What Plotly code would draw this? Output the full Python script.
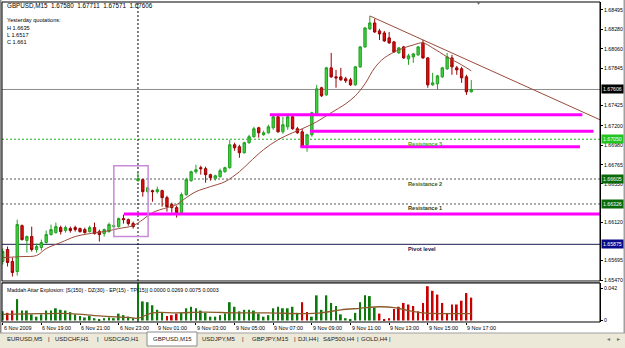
import plotly.graph_objects as go

# ---------------- data ----------------
bars = list(range(98))
opens = [1.65683, 1.65817, 1.65683, 1.65571, 1.66084, 1.65917, 1.65962, 1.65817, 1.65839, 1.65895,
         1.65984, 1.66006, 1.66062, 1.66029, 1.66051, 1.66062, 1.66051, 1.66040, 1.66017, 1.66062,
         1.66017, 1.65995, 1.66017, 1.66073, 1.66073, 1.66163, 1.66151, 1.66107, 1.66587, 1.66598,
         1.66464, 1.66475, 1.66464, 1.66475, 1.66397, 1.66319, 1.66285, 1.66229, 1.66430, 1.66587,
         1.66687, 1.66732, 1.66721, 1.66654, 1.66609, 1.66631, 1.66687, 1.66732, 1.66988, 1.66966,
         1.66899, 1.67011, 1.67078, 1.67178, 1.67100, 1.67122, 1.67178, 1.67301, 1.67133, 1.67189,
         1.67301, 1.67167, 1.67133, 1.66988, 1.67100, 1.67334, 1.67625, 1.67546, 1.67848, 1.67747,
         1.67747, 1.67725, 1.67714, 1.67658, 1.67859, 1.68082, 1.68283, 1.68350, 1.68261, 1.68238,
         1.68183, 1.68138, 1.68015, 1.68082, 1.67948, 1.67970, 1.67993, 1.68127, 1.67959, 1.67658,
         1.67669, 1.67747, 1.67837, 1.67959, 1.67848, 1.67837, 1.67747, 1.67580]
highs = [1.65828, 1.65850, 1.65727, 1.66151, 1.66096, 1.65973, 1.66073, 1.65884, 1.65928, 1.66029,
         1.66096, 1.66118, 1.66084, 1.66084, 1.66073, 1.66084, 1.66062, 1.66062, 1.66084, 1.66118,
         1.66040, 1.66051, 1.66118, 1.66096, 1.66174, 1.66207, 1.66163, 1.66129, 1.66676, 1.66609,
         1.66520, 1.66486, 1.66520, 1.66486, 1.66419, 1.66341, 1.66308, 1.66453, 1.66620, 1.66698,
         1.66765, 1.66754, 1.66743, 1.66665, 1.66654, 1.66721, 1.66743, 1.67044, 1.67011, 1.66988,
         1.67022, 1.67100, 1.67189, 1.67189, 1.67145, 1.67212, 1.67312, 1.67312, 1.67301, 1.67312,
         1.67312, 1.67189, 1.67167, 1.67111, 1.67357, 1.67658, 1.67636, 1.67859, 1.68015, 1.67825,
         1.67848, 1.67747, 1.67736, 1.67870, 1.68093, 1.68305, 1.68428, 1.68395, 1.68283, 1.68261,
         1.68249, 1.68149, 1.68082, 1.68093, 1.68004, 1.68015, 1.68093, 1.68160, 1.67970, 1.67792,
         1.67770, 1.67859, 1.68015, 1.67993, 1.67870, 1.67859, 1.67770, 1.67711]
lows = [1.65649, 1.65627, 1.65515, 1.65526, 1.65917, 1.65783, 1.65794, 1.65783, 1.65805, 1.65884,
        1.65973, 1.65995, 1.65984, 1.66006, 1.66006, 1.66017, 1.66006, 1.65995, 1.66006, 1.65984,
        1.65906, 1.65962, 1.66006, 1.66062, 1.66062, 1.66107, 1.66084, 1.66051, 1.66575, 1.66408,
        1.66453, 1.66352, 1.66442, 1.66296, 1.66241, 1.66229, 1.66174, 1.66218, 1.66419, 1.66575,
        1.66665, 1.66654, 1.66564, 1.66587, 1.66587, 1.66620, 1.66676, 1.66721, 1.66921, 1.66843,
        1.66888, 1.67000, 1.67067, 1.67067, 1.67089, 1.67111, 1.67156, 1.67122, 1.67111, 1.67156,
        1.67156, 1.67111, 1.66955, 1.66910, 1.67078, 1.67323, 1.67524, 1.67535, 1.67736, 1.67625,
        1.67703, 1.67680, 1.67647, 1.67647, 1.67848, 1.68071, 1.68272, 1.68238, 1.68160, 1.68138,
        1.68116, 1.68015, 1.68004, 1.67948, 1.67881, 1.67904, 1.67982, 1.67948, 1.67625, 1.67647,
        1.67602, 1.67736, 1.67825, 1.67770, 1.67770, 1.67680, 1.67546, 1.67571]
closes = [1.65794, 1.65671, 1.65560, 1.66096, 1.65928, 1.65962, 1.65817, 1.65850, 1.65895, 1.65984,
          1.66040, 1.66073, 1.66017, 1.66062, 1.66029, 1.66040, 1.66017, 1.66006, 1.66062, 1.65995,
          1.65984, 1.66040, 1.66096, 1.66084, 1.66163, 1.66151, 1.66107, 1.66073, 1.66609, 1.66464,
          1.66508, 1.66464, 1.66486, 1.66397, 1.66296, 1.66285, 1.66229, 1.66430, 1.66598, 1.66687,
          1.66709, 1.66721, 1.66654, 1.66620, 1.66642, 1.66698, 1.66732, 1.66988, 1.66955, 1.66899,
          1.67011, 1.67078, 1.67167, 1.67122, 1.67122, 1.67189, 1.67301, 1.67133, 1.67212, 1.67301,
          1.67167, 1.67122, 1.66966, 1.67100, 1.67346, 1.67613, 1.67535, 1.67848, 1.67747, 1.67736,
          1.67714, 1.67703, 1.67658, 1.67859, 1.68082, 1.68294, 1.68350, 1.68249, 1.68227, 1.68149,
          1.68127, 1.68026, 1.68071, 1.67959, 1.67982, 1.68004, 1.68082, 1.67959, 1.67658, 1.67680,
          1.67758, 1.67848, 1.67970, 1.67859, 1.67825, 1.67736, 1.67580, 1.67606]

ma_bars = [0, 4, 7, 9, 12, 15, 18, 21, 24, 27, 29, 31, 34, 36, 38, 40, 43, 46, 49, 51,
           54, 57, 60, 62, 65, 68, 71, 73, 75, 77, 79, 82, 85, 87, 89, 92, 95, 97]
ma_vals = [1.65727, 1.65738, 1.65750, 1.65828, 1.65895, 1.65962, 1.65995, 1.66017, 1.66051, 1.66084,
           1.66151, 1.66229, 1.66285, 1.66319, 1.66397, 1.66464, 1.66520, 1.66575, 1.66687, 1.66788,
           1.66933, 1.67044, 1.67122, 1.67167, 1.67245, 1.67346, 1.67446, 1.67535, 1.67669, 1.67848,
           1.67959, 1.68049, 1.68104, 1.68127, 1.68071, 1.67970, 1.67881, 1.67814]

hist_vals = [0.012, 0.010, 0.013, 0.028, 0.013, 0.013, 0.008, 0.005, 0.008, 0.013,
             0.013, 0.016, 0.014, 0.013, 0.011, 0.008, 0.006, 0.004, 0.006, 0.003,
             0.002, 0.003, 0.004, 0.003, 0.009, 0.007, 0.005, 0.003, 0.049, 0.025,
             0.024, 0.020, 0.014, 0.010, 0.006, 0.007, 0.009, 0.010, 0.016, 0.018,
             0.016, 0.013, 0.010, 0.005, 0.005, 0.007, 0.009, 0.024, 0.018, 0.012,
             0.014, 0.014, 0.013, 0.009, 0.005, 0.007, 0.016, 0.018, 0.016, 0.016,
             0.018, 0.010, 0.024, 0.011, 0.005, 0.033, 0.014, 0.033, 0.023, 0.019,
             0.008, 0.003, 0.002, 0.010, 0.024, 0.033, 0.032, 0.017, 0.009, 0.001,
             0.003, 0.015, 0.018, 0.023, 0.021, 0.019, 0.012, 0.023, 0.045, 0.039,
             0.034, 0.023, 0.009, 0.021, 0.021, 0.026, 0.036, 0.030]
hist_dir = [1, -1, -1, 1, 1, 1, 1, 1, 1, 1,
            1, 1, 1, 1, 1, 1, 1, 1, 1, 1,
            1, 1, 1, 1, 1, 1, 1, 1, 1, 1,
            1, 1, 1, 1, -1, -1, -1, 1, 1, 1,
            1, 1, 1, 1, 1, 1, 1, 1, 1, 1,
            1, 1, 1, 1, 1, 1, 1, 1, 1, 1,
            1, 1, -1, -1, 1, 1, 1, 1, 1, 1,
            1, 1, 1, 1, 1, 1, 1, 1, -1, -1,
            -1, -1, -1, -1, -1, -1, -1, -1, -1, -1,
            -1, -1, -1, -1, -1, -1, -1, -1]
sig_bars = [0, 8, 14, 20, 26, 28, 31, 36, 42, 48, 55, 62, 66, 70, 74, 78, 81, 84, 87, 91, 97]
sig_vals = [0.008, 0.009, 0.009, 0.006, 0.004, 0.003, 0.010, 0.010, 0.011, 0.010, 0.010,
            0.009, 0.010, 0.014, 0.016, 0.018, 0.017, 0.013, 0.010, 0.009, 0.009]

time_tick_bars = [0, 8, 16, 24, 32, 40, 48, 56, 64, 72, 80, 88, 96]
time_tick_labels = ["6 Nov 2009", "6 Nov 19:00", "6 Nov 21:00", "6 Nov 23:00", "9 Nov 01:00",
                    "9 Nov 03:00", "9 Nov 05:00", "9 Nov 07:00", "9 Nov 09:00", "9 Nov 11:00",
                    "9 Nov 13:00", "9 Nov 15:00", "9 Nov 17:00"]
price_ticks = [1.68495, 1.68280, 1.68060, 1.67845, 1.67425, 1.67200, 1.66980, 1.66765,
               1.66550, 1.66120, 1.65695, 1.65470]

current_price = 1.67606
pivot = 1.65875
res1 = 1.66326
res2 = 1.66605
res3 = 1.67050

magenta_lines = [(55.3, 120.0, 1.67323), (63.6, 122.3, 1.67139),
                 (61.6, 119.5, 1.66966), (25.1, 123.7, 1.66213)]
trend_line = (76, 1.68428, 123.66, 1.67267)
box_rect = (23.0, 30.1, 1.65962, 1.66754)
separator_bar = 28

tabs = ["EURUSD,M5", "|", "USDCHF,H1", "|", "USDCAD,H1", "GBPUSD,M15", "USDJPY,M5", "|",
        "GBPJPY,M15", "|", "DJI,H4", "|", "S&P500,H4", "|", "GOLD,H4", "|"]
tab_px = [25, 49, 72, 98, 121, 172, 219, 243, 270, 295, 307, 318, 339, 358, 374, 390]

# ---------------- geometry helpers (pixel -> paper) ----------------
PL, PR, PT, PB = 2, 600, 2, 322
W, H = 625, 348


def fx(px):
    return (px - PL) / (PR - PL)


def fy(py):
    return (PB - py) / (PB - PT)


FONT = "Liberation Sans, Arial, sans-serif"
AXFONT = 5.2

fig = go.Figure()

fig.add_trace(go.Candlestick(
    x=bars, open=opens, high=highs, low=lows, close=closes,
    increasing=dict(line=dict(color="#23a023", width=1), fillcolor="#3fd03f"),
    decreasing=dict(line=dict(color="#9a0000", width=1), fillcolor="#dd1010"),
    whiskerwidth=0, xaxis="x", yaxis="y", showlegend=False, hoverinfo="skip"))

fig.add_trace(go.Scatter(
    x=ma_bars, y=ma_vals, mode="lines", xaxis="x", yaxis="y",
    line=dict(color="#9a4a3a", width=1, shape="spline"), hoverinfo="skip"))

up_x = [b for b, d in zip(bars, hist_dir) if d > 0]
up_v = [v for v, d in zip(hist_vals, hist_dir) if d > 0]
dn_x = [b for b, d in zip(bars, hist_dir) if d < 0]
dn_v = [v for v, d in zip(hist_vals, hist_dir) if d < 0]
fig.add_trace(go.Bar(x=up_x, y=up_v, width=0.38, xaxis="x", yaxis="y2",
                     marker=dict(color="#0b7a0b", line=dict(width=0)), hoverinfo="skip"))
fig.add_trace(go.Bar(x=dn_x, y=dn_v, width=0.38, xaxis="x", yaxis="y2",
                     marker=dict(color="#c80000", line=dict(width=0)), hoverinfo="skip"))
fig.add_trace(go.Scatter(x=sig_bars, y=sig_vals, mode="lines", xaxis="x", yaxis="y2",
                         line=dict(color="#8b5a2b", width=1.3, shape="spline"), hoverinfo="skip"))

shapes = []
# horizontal levels
shapes.append(dict(type="line", xref="paper", yref="y", x0=0, x1=1, y0=current_price, y1=current_price,
                   line=dict(color="#8c8c8c", width=1), layer="below"))
shapes.append(dict(type="line", xref="paper", yref="y", x0=0, x1=1, y0=res3, y1=res3,
                   line=dict(color="#22b022", width=1, dash="2px,2px"), layer="below"))
for lv in (res2, res1):
    shapes.append(dict(type="line", xref="paper", yref="y", x0=0, x1=1, y0=lv, y1=lv,
                       line=dict(color="#5a5a5a", width=1, dash="2px,2px"), layer="below"))
shapes.append(dict(type="line", xref="paper", yref="y", x0=0, x1=1, y0=pivot, y1=pivot,
                   line=dict(color="#1c1c50", width=1), layer="below"))
# period separator
shapes.append(dict(type="line", xref="x", yref="paper", x0=separator_bar, x1=separator_bar,
                   y0=fy(281), y1=1, line=dict(color="black", width=1, dash="2px,2px"), layer="below"))
shapes.append(dict(type="line", xref="x", yref="paper", x0=separator_bar, x1=separator_bar,
                   y0=0, y1=fy(283), line=dict(color="black", width=1, dash="2px,2px"), layer="below"))
# magenta support/resistance lines
for x0, x1, lv in magenta_lines:
    shapes.append(dict(type="line", xref="x", yref="y", x0=x0, x1=x1, y0=lv, y1=lv,
                       line=dict(color="#ff00ff", width=3)))
# rectangle
shapes.append(dict(type="rect", xref="x", yref="y", x0=box_rect[0], x1=box_rect[1],
                   y0=box_rect[2], y1=box_rect[3], line=dict(color="#c88ad8", width=1.5)))
# trend line
shapes.append(dict(type="line", xref="x", yref="y", x0=trend_line[0], y0=trend_line[1],
                   x1=trend_line[2], y1=trend_line[3], line=dict(color="#9a4a3a", width=1)))
# frames
shapes.append(dict(type="rect", xref="paper", yref="paper", x0=0, x1=1, y0=fy(281), y1=1,
                   line=dict(color="black", width=1)))
shapes.append(dict(type="line", xref="paper", yref="paper", x0=0, x1=1, y0=fy(282), y1=fy(282),
                   line=dict(color="#909090", width=2)))
shapes.append(dict(type="rect", xref="paper", yref="paper", x0=0, x1=1, y0=0, y1=fy(283),
                   line=dict(color="black", width=1)))
# window borders
shapes.append(dict(type="rect", xref="paper", yref="paper", x0=fx(0), x1=fx(1.5), y0=fy(H), y1=fy(0),
                   fillcolor="#8a8a8a", line=dict(width=0), layer="below"))
shapes.append(dict(type="rect", xref="paper", yref="paper", x0=fx(623.5), x1=fx(W), y0=fy(333), y1=fy(0),
                   fillcolor="#a0a0a0", line=dict(width=0), layer="below"))
# tab strip
shapes.append(dict(type="rect", xref="paper", yref="paper", x0=fx(0), x1=fx(W), y0=fy(H), y1=fy(333),
                   fillcolor="#ece9d8", line=dict(width=0)))
shapes.append(dict(type="line", xref="paper", yref="paper", x0=fx(0), x1=fx(W), y0=fy(333), y1=fy(333),
                   line=dict(color="#a0a0a0", width=1)))
shapes.append(dict(type="rect", xref="paper", yref="paper", x0=fx(147), x1=fx(197), y0=fy(346), y1=fy(332),
                   fillcolor="white", line=dict(color="#8a8a8a", width=1)))

ann = []


def txt(px, py, s, size=6, color="black", anchor="left"):
    ann.append(dict(x=fx(px), y=fy(py), xref="paper", yref="paper", text=s, showarrow=False,
                    xanchor=anchor, yanchor="middle", font=dict(family=FONT, size=size, color=color)))


txt(5, 6, "GBPUSD,M15  1.67580  1.67711  1.67571  1.67606", 6.3)
txt(5, 20, "Yesterday quotations:", 5.6)
txt(5, 28, "H 1.6635", 5.6)
txt(5, 35, "L 1.6517", 5.6)
txt(5, 42, "C 1.661", 5.6)
txt(5, 290, "Maddah Attar Explosion: [S(150) - DZ(30) - EP(15) - TP(15)] 0.0000 0.0269 0.0075 0.0003", 5.3)
txt(478, 3.5, "▼", 5, "#606060", "center")

# level labels
for s, lv, col in [("Resistance 3", res3, "#33b033"), ("Resistance 2", res2, "#2a602a"),
                   ("Resistance 1", res1, "#1a3a1a"), ("Pivot level", pivot, "#14144a")]:
    ann.append(dict(x=83.5, y=lv, xref="x", yref="y", text="<b>" + s + "</b>", showarrow=False,
                    xanchor="left", yanchor="middle", yshift=-4.5,
                    font=dict(family=FONT, size=5.6, color=col)))

# price boxes on the axis
for lv, bg in [(current_price, "#000000"), (res3, "#22c422"), (res2, "#0a6a0a"),
               (res1, "#0a6a0a"), (pivot, "#0a0a8a")]:
    ann.append(dict(x=fx(601), y=lv, xref="paper", yref="y", text=f"{lv:.5f}", showarrow=False,
                    xanchor="left", yanchor="middle", bgcolor=bg, borderpad=1,
                    font=dict(family=FONT, size=AXFONT, color="white")))

# time labels
for b, s in zip(time_tick_bars, time_tick_labels):
    ann.append(dict(x=b, y=fy(327.5), xref="x", yref="paper", text=s, showarrow=False,
                    xanchor="left", yanchor="middle", xshift=-1,
                    font=dict(family=FONT, size=5.4, color="black")))

# tabs
for s, px in zip(tabs, tab_px):
    txt(px, 339, s.replace("&", "&amp;"), 6, "#222222", "center")
txt(608, 339, "◂", 6, "#707070", "center")
txt(618, 339, "▸", 6, "#707070", "center")

fig.update_layout(
    width=W, height=H, margin=dict(l=PL, r=W - PR, t=PT, b=H - PB),
    paper_bgcolor="white", plot_bgcolor="white", showlegend=False, barmode="overlay",
    xaxis=dict(domain=[0, 1], range=[-0.15, 123.65], anchor="y2", showgrid=False, zeroline=False,
               showticklabels=False, ticks="outside", ticklen=2, tickcolor="black",
               tickvals=time_tick_bars, rangeslider=dict(visible=False), showline=False,
               fixedrange=True),
    yaxis=dict(domain=[fy(281), 1], range=[1.65465, 1.68584], side="right", anchor="x",
               showgrid=False, zeroline=False, tickvals=price_ticks,
               ticktext=[f"{v:.5f}" for v in price_ticks], ticks="outside", ticklen=2,
               tickcolor="black", tickfont=dict(family=FONT, size=AXFONT, color="black"),
               showline=True, linecolor="black", linewidth=1, automargin=False),
    yaxis2=dict(domain=[0, fy(283)], range=[-0.002, 0.0492], side="right", anchor="x",
                showgrid=False, zeroline=False, tickvals=[0, 0.042], ticktext=["0", "0.042"],
                ticks="outside", ticklen=2, tickcolor="black",
                tickfont=dict(family=FONT, size=AXFONT, color="black"),
                showline=True, linecolor="black", linewidth=1, automargin=False),
    shapes=shapes, annotations=ann,
)

fig.write_html("out.html")
